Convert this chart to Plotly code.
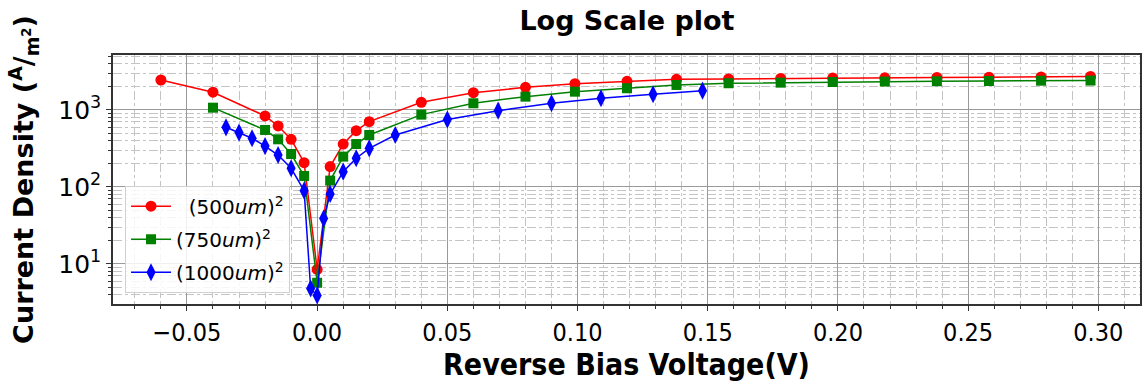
import numpy as np
import plotly.graph_objects as go

# Reverse bias voltage (V) and current density (A/m^2) for three diode sizes
v_500 = [-0.06, -0.04, -0.02, -0.015, -0.01, -0.005, 0.0, 0.005, 0.01, 0.015, 0.02,
         0.04, 0.06, 0.08, 0.099, 0.119, 0.138, 0.158, 0.178, 0.198, 0.218, 0.238,
         0.258, 0.278, 0.297]
j_500 = [2450, 1700, 836, 620, 416, 207, 8.5, 184, 361, 538, 705,
         1259, 1678, 1968, 2196, 2357, 2500, 2530, 2570, 2600, 2620, 2640,
         2670, 2690, 2720]

v_750 = [-0.04, -0.02, -0.015, -0.01, -0.005, 0.0, 0.005, 0.01, 0.015, 0.02,
         0.04, 0.06, 0.08, 0.099, 0.119, 0.138, 0.158, 0.178, 0.198, 0.218, 0.238,
         0.258, 0.278, 0.297]
j_750 = [1071, 550, 416, 268, 139, 5.7, 121, 248, 361, 473,
         870, 1222, 1490, 1729, 1915, 2113, 2224, 2265, 2310, 2340, 2360,
         2380, 2400, 2410]

v_1000 = [-0.035, -0.03, -0.025, -0.02, -0.015, -0.01, -0.005, -0.0025, 0.0, 0.0025,
          0.005, 0.01, 0.015, 0.02, 0.03, 0.05, 0.0695, 0.09, 0.109, 0.129, 0.148]
j_1000 = [596, 508, 429, 340, 260, 175, 89.5, 4.8, 3.9, 39,
          81, 158, 236, 318, 473, 750, 980, 1222, 1419, 1600, 1782]

series = [
    ("  (500<i>um</i>)<sup>2</sup>", v_500, j_500, "red", "circle", 11),
    ("(750<i>um</i>)<sup>2</sup>", v_750, j_750, "green", "square", 10),
    ("(1000<i>um</i>)<sup>2</sup>", v_1000, j_1000, "blue", "diamond-tall", 13),
]

fig = go.Figure()
for i, (name, xs, ys, color, symbol, size) in enumerate(series):
    fig.add_trace(go.Scatter(
        x=xs, y=ys, name=name, mode="lines+markers",
        legendgroup=f"g{i}",
        line=dict(color=color, width=1.5),
        marker=dict(color=color, symbol=symbol, size=size, line=dict(width=0)),
    ))

minor_y = [m * 10 ** d for d in range(0, 4) for m in range(2, 10)]
minor_x = [round(v, 3) for v in np.arange(-0.08, 0.33, 0.01)]

fig.update_layout(
    width=1142, height=386,
    margin=dict(l=113, r=0, t=55, b=82),
    paper_bgcolor="white", plot_bgcolor="white",
    font=dict(family="DejaVu Sans", color="black"),
    title=dict(text="<b>Log Scale plot</b>", x=0.549, xanchor="center",
               y=0.948, yanchor="middle", font=dict(size=27)),
    legend=dict(x=0.0117, y=0.475, xanchor="left", yanchor="top",
                bgcolor="rgba(255,255,255,0.85)", bordercolor="#d0d0d0",
                borderwidth=1, font=dict(size=20), tracegroupgap=4,
                itemwidth=40),
    showlegend=True,
)

fig.update_xaxes(
    range=[-0.0784, 0.316],
    tickvals=[-0.05, 0.0, 0.05, 0.1, 0.15, 0.2, 0.25, 0.3],
    ticktext=["\u22120.05", "0.00", "0.05", "0.10", "0.15", "0.20", "0.25", "0.30"],
    tickfont=dict(size=25, family="DejaVu Sans Condensed"),
    ticks="outside", ticklen=5, tickcolor="#333", tickwidth=1,
    showline=True, linecolor="#333", linewidth=1.5, mirror=True,
    showgrid=True, gridcolor="#9a9a9a", gridwidth=1.3,
    zeroline=False,
    minor=dict(tickvals=minor_x, ticks="outside", ticklen=3, tickcolor="#333",
               showgrid=True, gridcolor="#c4c4c4", griddash="dashdot", gridwidth=1),
    title=dict(text="<b>Reverse Bias Voltage(V)</b>", standoff=4,
               font=dict(size=30, family="DejaVu Sans Condensed")),
)

fig.update_yaxes(
    type="log", range=[0.48, 3.714],
    tickvals=[10, 100, 1000],
    ticktext=["10<sup>1</sup>", "10<sup>2</sup>", "10<sup>3</sup>"],
    tickfont=dict(size=25),
    ticks="outside", ticklen=5, tickcolor="#333", tickwidth=1,
    showline=True, linecolor="#333", linewidth=1.5, mirror=True,
    showgrid=True, gridcolor="#9a9a9a", gridwidth=1.3,
    zeroline=False,
    minor=dict(tickvals=minor_y, ticks="outside", ticklen=3, tickcolor="#333",
               showgrid=True, gridcolor="#c4c4c4", griddash="dashdot", gridwidth=1),
    title=dict(text="<b>Current Density (<sup>A</sup>/<sub>m<sup>2</sup></sub>)</b>",
               standoff=17, font=dict(size=27)),
)

fig.write_html("out.html")
